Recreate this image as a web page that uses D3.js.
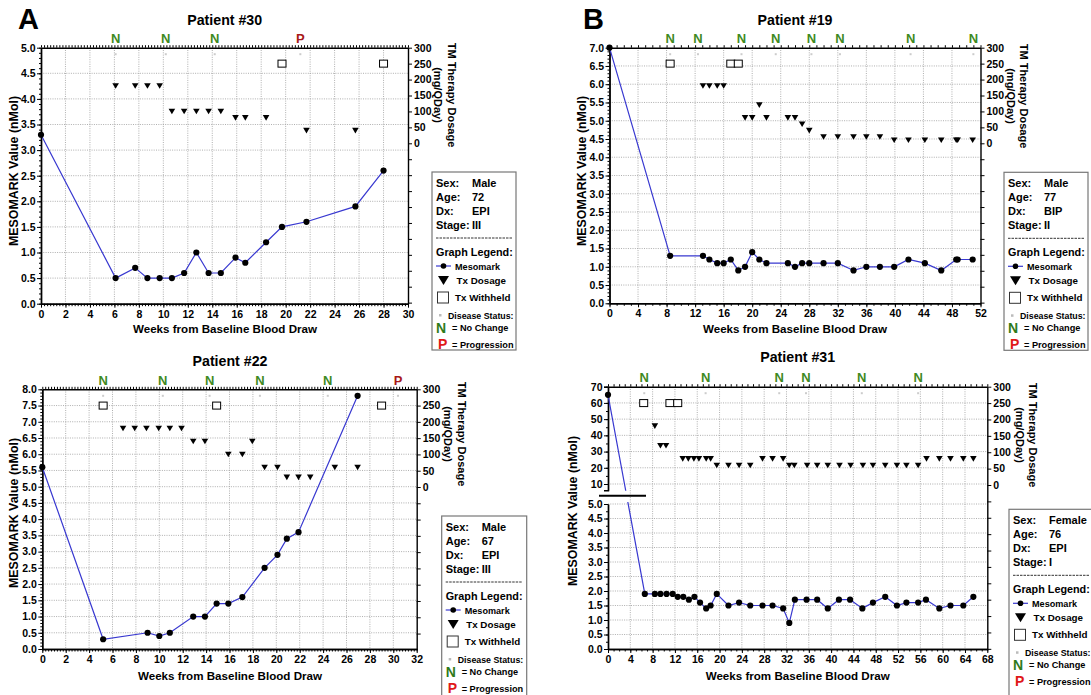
<!DOCTYPE html>
<html><head><meta charset="utf-8">
<script src="https://cdn.jsdelivr.net/npm/d3@7"></script>
<style>
body{margin:0;background:#fff;}
svg{display:block;font-family:"Liberation Sans",Arial,Helvetica,sans-serif;}
</style>
</head><body>
<svg id="c" width="1091" height="695"></svg>
<script>
// ---------------- DATA ----------------
// Patient #30
const p30Weeks = [0,6.1,7.7,8.7,9.7,10.7,11.7,12.7,13.7,14.7,15.9,16.7,18.4,19.7,21.7,25.7,28];
const p30Meso  = [3.3,0.5,0.7,0.5,0.5,0.5,0.6,1.0,0.6,0.6,0.9,0.8,1.2,1.5,1.6,1.9,2.6];
const p30DoseWeeks = [6.1,7.7,8.7,9.7,10.7,11.7,12.7,13.7,14.7,15.9,16.7,18.4,21.7,25.7];
const p30Dose      = [180,180,180,180,100,100,100,100,100,80,80,80,40,40];
const p30HeldWeeks = [19.7,28];
const p30StatusWeeks  = [6.1,10.2,14.2,21.2];
const p30StatusLabels = ["N","N","N","P"];
const p30Info = ["Male","72","EPI","III"];

// Patient #22
const p22Weeks = [0,5.2,9,10,10.9,12.9,13.9,14.9,15.9,17.1,19,20.1,20.9,21.9,26.95];
const p22Meso  = [5.6,0.3,0.5,0.4,0.5,1.0,1.0,1.4,1.4,1.6,2.5,2.9,3.4,3.6,7.8];
const p22DoseWeeks = [6.9,7.9,8.9,9.95,10.9,11.9,12.9,13.9,15.9,17.1,17.95,19,20.1,20.9,21.9,22.9,25,26.95];
const p22Dose      = [180,180,180,180,180,180,140,140,100,100,140,60,60,30,30,30,60,60];
const p22HeldWeeks = [5.2,14.9,29];
const p22StatusWeeks  = [5.2,10.3,14.3,18.6,24.4,30.4];
const p22StatusLabels = ["N","N","N","N","N","P"];
const p22Info = ["Male","67","EPI","III"];

// Patient #19
const p19Weeks = [0,8.5,13.1,14,15.1,16,17,18.05,19,20,21,22,25,26,27,28,30,32,34.2,36,37.9,39.9,41.9,44.2,46.5,48.6,48.8,50.9];
const p19Meso  = [7.0,1.3,1.3,1.2,1.1,1.1,1.2,0.9,1.0,1.4,1.2,1.1,1.1,1.0,1.1,1.1,1.1,1.1,0.9,1.0,1.0,1.0,1.2,1.1,0.9,1.2,1.2,1.2];
const p19DoseWeeks = [13.1,14,15.1,16,19,20,21,22,25,26,27,28,30,32,34.2,36,37.9,39.9,41.9,44.2,46.5,48.6,48.8,50.9];
const p19Dose      = [180,180,180,180,80,80,120,80,80,80,60,40,20,20,20,20,20,10,10,10,10,10,10,10];
const p19HeldWeeks = [8.5,17,18.05];
const p19StatusWeeks  = [8.5,12.4,18.5,23.3,28.3,32.3,42.2,51];
const p19StatusLabels = ["N","N","N","N","N","N","N","N"];
const p19Info = ["Male","77","BIP","II"];

// Patient #31
const p31Weeks = [0,6.6,8.4,9.4,10.5,11.6,12.5,13.5,14.5,15.5,16.5,17.6,18.4,19.5,21.6,23.5,25.5,27.7,29.5,31.4,32.5,33.5,35.6,37.5,39.4,41.4,43.4,45.6,47.5,49.7,51.8,53.5,55.6,57.0,59.4,61.4,63.7,65.5];
const p31Meso  = [65,1.9,1.9,1.9,1.9,1.9,1.8,1.8,1.7,1.8,1.6,1.4,1.5,1.9,1.5,1.6,1.5,1.5,1.5,1.4,0.9,1.7,1.7,1.7,1.4,1.7,1.7,1.4,1.6,1.8,1.5,1.6,1.6,1.7,1.4,1.5,1.5,1.8];
const p31DoseWeeks = [8.4,9.4,10.4,13.4,14.4,15.4,16.3,17.6,18.4,19.5,21.6,23.5,25.5,27.7,29.5,31.4,32.5,33.4,35.7,37.5,39.4,41.5,43.5,45.7,47.5,49.7,51.8,53.5,55.6,57.1,59.4,61.4,63.7,65.5];
const p31Dose      = [180,120,120,80,80,80,80,80,80,60,60,60,60,80,80,80,60,60,60,60,60,60,60,60,60,60,60,60,60,80,80,80,80,80];
const p31HeldWeeks = [6.4,11.1,12.5];
const p31StatusWeeks  = [6.5,17.5,30.7,35.5,45.5,55.6];
const p31StatusLabels = ["N","N","N","N","N","N"];
const p31Info = ["Female","76","EPI","I"];

const infoLabels = ["Sex:","Age:","Dx:","Stage:"];

// ---------------- DRAWING ----------------
const FF = '"Liberation Sans", Arial, Helvetica, sans-serif';
const NARROW = '"Liberation Sans Narrow","Arial Narrow","Liberation Sans",sans-serif';
const svg = d3.select("#c");
const BLUE = "#3838d0", GREEN_PLOT = "#3f8a1f", RED_PLOT = "#a81818";
const GRID = "#9a9a9a";

function styleAxis(sel, fs) {
  sel.attr("font-family", FF).attr("font-size", fs).attr("font-weight", "bold");
  sel.select(".domain").attr("stroke", "#000").attr("stroke-width", 1.4);
  sel.selectAll(".tick line").attr("stroke", "#000").attr("stroke-width", 1);
  sel.selectAll(".tick text").attr("fill", "#000");
}

function triPath(cx, cy) {
  return `M${cx-3.3},${cy-2.7}L${cx+3.3},${cy-2.7}L${cx},${cy+2.9}Z`;
}

function drawPanel(c) {
  const g = svg.append("g");
  const x = d3.scaleLinear().domain([0, c.xMax]).range([c.left, c.right]);
  let yf, yLow, yUp;
  if (c.broken) {
    yLow = d3.scaleLinear().domain([0, 5]).range([c.bottom, c.lowTop]);
    yUp = d3.scaleLinear().domain([10, 70]).range([c.up10, c.top]);
    yf = v => v > 5.5 ? yUp(v) : yLow(v);
  } else {
    yLow = d3.scaleLinear().domain([0, c.yMax]).range([c.bottom, c.top]);
    yf = v => yLow(v);
  }
  const y2 = d3.scaleLinear().domain([0, 300]).range([c.y2Zero, c.top]);

  // grid
  const gg = g.append("g").attr("stroke", GRID).attr("stroke-width", 0.8).attr("stroke-dasharray", "1,1.3");
  gg.selectAll(".vg").data(d3.range(c.xStep, c.xMax - 0.001, c.xStep)).join("line")
    .attr("x1", d => x(d)).attr("x2", d => x(d)).attr("y1", c.top).attr("y2", c.bottom);
  if (c.broken) {
    gg.selectAll(".hg").data(d3.range(0.5, 5.01, 0.5)).join("line")
      .attr("x1", c.left).attr("x2", c.right).attr("y1", d => yLow(d)).attr("y2", d => yLow(d));
    gg.selectAll(".hu").data(d3.range(10, 61, 10)).join("line")
      .attr("x1", c.left).attr("x2", c.right).attr("y1", d => yUp(d)).attr("y2", d => yUp(d));
  } else {
    gg.selectAll(".hg").data(d3.range(c.yStep, c.yMax - 0.001, c.yStep)).join("line")
      .attr("x1", c.left).attr("x2", c.right).attr("y1", d => yLow(d)).attr("y2", d => yLow(d));
  }

  // top border with minor ticks
  const topAx = g.append("g").attr("transform", `translate(0,${c.top})`)
    .call(d3.axisTop(x).tickValues(d3.range(0, c.xMax + 0.001, c.xMinor)).tickSize(2.5).tickSizeOuter(0).tickFormat(""));
  styleAxis(topAx, 10);

  // bottom axis minor + major
  const botMin = g.append("g").attr("transform", `translate(0,${c.bottom})`)
    .call(d3.axisBottom(x).tickValues(d3.range(0, c.xMax + 0.001, c.xMinor)).tickSize(2.5).tickSizeOuter(0).tickFormat(""));
  styleAxis(botMin, 10);
  const botAx = g.append("g").attr("transform", `translate(0,${c.bottom})`)
    .call(d3.axisBottom(x).tickValues(d3.range(0, c.xMax + 0.001, c.xStep)).tickSize(4).tickSizeOuter(0).tickFormat(d3.format("d")).tickPadding(2.5));
  styleAxis(botAx, 10.5);

  // left axis
  if (c.broken) {
    const lowAx = g.append("g").attr("transform", `translate(${c.left},0)`)
      .call(d3.axisLeft(yLow).tickValues(d3.range(0, 5.01, 0.5)).tickSize(4).tickSizeOuter(0).tickFormat(d3.format(".1f")).tickPadding(1.5));
    styleAxis(lowAx, 10.5);
    const lowMin = g.append("g").attr("transform", `translate(${c.left},0)`)
      .call(d3.axisLeft(yLow).tickValues(d3.range(0, 5.01, 0.25)).tickSize(2).tickSizeOuter(0).tickFormat(""));
    styleAxis(lowMin, 10);
    const upScale = d3.scaleLinear().domain([yUp.invert(c.upBottom), 70]).range([c.upBottom, c.top]);
    const upAx = g.append("g").attr("transform", `translate(${c.left},0)`)
      .call(d3.axisLeft(upScale).tickValues(d3.range(10, 71, 10)).tickSize(4).tickSizeOuter(4).tickFormat(d3.format("d")).tickPadding(1.5));
    styleAxis(upAx, 10.5);
    const upMin = g.append("g").attr("transform", `translate(${c.left},0)`)
      .call(d3.axisLeft(upScale).tickValues(d3.range(10, 71, 5)).tickSize(2).tickSizeOuter(0).tickFormat(""));
    styleAxis(upMin, 10);
    // break mark
    g.append("line").attr("x1", c.left - 9).attr("x2", c.left + 38).attr("y1", c.breakY).attr("y2", c.breakY)
      .attr("stroke", "#000").attr("stroke-width", 2);
  } else {
    const leftMin = g.append("g").attr("transform", `translate(${c.left},0)`)
      .call(d3.axisLeft(yLow).tickValues(d3.range(0, c.yMax + 0.001, c.yMinor)).tickSize(2).tickSizeOuter(0).tickFormat(""));
    styleAxis(leftMin, 10);
    const leftAx = g.append("g").attr("transform", `translate(${c.left},0)`)
      .call(d3.axisLeft(yLow).tickValues(d3.range(0, c.yMax + 0.001, c.yStep)).tickSize(4).tickSizeOuter(0).tickFormat(d3.format(".1f")).tickPadding(1.5));
    styleAxis(leftAx, 10.5);
  }

  // right dosage axis
  const y2Full = d3.scaleLinear().domain([y2.invert(c.bottom), 300]).range([c.bottom, c.top]);
  const rTicks = d3.range(300, y2.invert(c.bottom) - 1, -50);
  const rightAx = g.append("g").attr("transform", `translate(${c.right},0)`)
    .call(d3.axisRight(y2Full).tickValues(rTicks).tickSize(4).tickSizeOuter(0).tickPadding(2)
      .tickFormat(d => d >= 0 ? d : ""));
  styleAxis(rightAx, 10.5);

  // mesomark line
  const line = d3.line().x(d => x(d[0])).y(d => yf(d[1]));
  const pts = c.weeks.map((w, i) => [w, c.meso[i]]);
  if (c.broken) {
    const cidA = "clipA" + c.id, cidB = "clipB" + c.id;
    const defs = svg.append("defs");
    defs.append("clipPath").attr("id", cidA).append("rect").attr("x", c.left - 5).attr("width", c.right - c.left + 10)
      .attr("y", c.top - 10).attr("height", c.upBottom - c.top + 10.5);
    defs.append("clipPath").attr("id", cidB).append("rect").attr("x", c.left - 5).attr("width", c.right - c.left + 10)
      .attr("y", c.lowTop - 2).attr("height", c.bottom - c.lowTop + 12);
    [cidA, cidB].forEach(id => g.append("path").attr("clip-path", `url(#${id})`).attr("d", line(pts))
      .attr("fill", "none").attr("stroke", BLUE).attr("stroke-width", 1.2));
  } else {
    g.append("path").attr("d", line(pts)).attr("fill", "none").attr("stroke", BLUE).attr("stroke-width", 1.2);
  }
  g.selectAll(".pt").data(pts).join("circle")
    .attr("cx", d => x(d[0])).attr("cy", d => yf(d[1])).attr("r", 3.1).attr("fill", "#000");

  // dosage triangles
  g.selectAll(".tri").data(c.doseWeeks.map((w, i) => [w, c.dose[i]])).join("path")
    .attr("d", d => triPath(x(d[0]), y2(d[1]))).attr("fill", "#000");
  // withheld squares
  g.selectAll(".sq").data(c.heldWeeks).join("rect")
    .attr("x", d => x(d) - 4).attr("y", y2(250) - 3.5).attr("width", 8).attr("height", 7)
    .attr("fill", "#fff").attr("stroke", "#000").attr("stroke-width", 1);

  // status letters
  g.selectAll(".st").data(c.statusWeeks.map((w, i) => [w, c.statusLabels[i]])).join("text")
    .attr("x", d => x(d[0])).attr("y", c.statusY).attr("text-anchor", "middle")
    .attr("font-size", 13).attr("font-weight", "bold").attr("fill", d => d[1] === "P" ? RED_PLOT : GREEN_PLOT)
    .text(d => d[1]);
  g.selectAll(".sd").data(c.statusWeeks).join("rect")
    .attr("x", d => x(d) - 1).attr("y", c.top + 5.5).attr("width", 2).attr("height", 2).attr("fill", "#ccc");

  // titles
  g.append("text").attr("x", c.titleX).attr("y", c.titleY).attr("text-anchor", "middle")
    .attr("font-size", 14.2).attr("font-weight", "bold").text(c.title);
  if (c.letter) g.append("text").attr("x", c.letterX).attr("y", 29).attr("font-size", 29).attr("font-weight", "bold").text(c.letter);
  g.append("text").attr("transform", `translate(${c.leftLabelX},${c.leftLabelY}) rotate(-90)`)
    .attr("text-anchor", "middle").attr("dominant-baseline", "central")
    .attr("font-size", 12.4).attr("font-weight", "bold").text("MESOMARK Value (nMol)");
  g.append("text").attr("x", c.xLabelX).attr("y", c.xLabelY).attr("text-anchor", "middle")
    .attr("font-size", 11.6).attr("font-weight", "bold").text("Weeks from Baseline Blood Draw");
  g.append("text").attr("transform", `translate(${c.rLabelX},${c.rLabelY}) rotate(90)`)
    .attr("text-anchor", "middle").attr("dominant-baseline", "central")
    .attr("font-size", 11).attr("font-weight", "bold").text("TM Therapy Dosage");
  g.append("text").attr("transform", `translate(${c.rLabel2X},${c.rLabelY}) rotate(90)`)
    .attr("text-anchor", "middle").attr("dominant-baseline", "central")
    .attr("font-size", 11).attr("font-weight", "bold").text("(mg/QDay)");

  // legend box
  const L = c.legend;
  const lg = g.append("g").attr("transform", `translate(${L.x},${L.y})`);
  lg.append("rect").attr("x", 0).attr("y", 0).attr("width", L.w).attr("height", L.h)
    .attr("fill", "#fff").attr("stroke", "#777").attr("stroke-width", 1.2);
  infoLabels.forEach((lab, i) => {
    lg.append("text").attr("x", 4).attr("y", 15 + i * 14).attr("font-size", 11).attr("font-weight", "bold").text(lab);
    lg.append("text").attr("x", 40).attr("y", 15 + i * 14).attr("font-size", 11).attr("font-weight", "bold").text(c.info[i]);
  });
  lg.append("line").attr("x1", 4).attr("x2", 80).attr("y1", 66).attr("y2", 66)
    .attr("stroke", "#333").attr("stroke-width", 1).attr("stroke-dasharray", "2.5,1");
  lg.append("text").attr("x", 4).attr("y", 84).attr("font-size", 10.8).attr("font-weight", "bold").text("Graph Legend:");
  lg.append("line").attr("x1", 4).attr("x2", 19).attr("y1", 94).attr("y2", 94).attr("stroke", BLUE).attr("stroke-width", 1.2);
  lg.append("circle").attr("cx", 11.5).attr("cy", 94).attr("r", 2.8).attr("fill", "#000");
  lg.append("text").attr("x", 23).attr("y", 97.5).attr("font-size", 9.1).attr("font-weight", "bold").text("Mesomark");
  lg.append("path").attr("d", "M6,104L17,104L11.5,113Z").attr("fill", "#000");
  lg.append("text").attr("x", 24.5).attr("y", 112).attr("font-size", 9.8).attr("font-weight", "bold")
    .attr("font-family", NARROW).text("Tx Dosage");
  lg.append("rect").attr("x", 5.5).attr("y", 120).attr("width", 11).attr("height", 11)
    .attr("fill", "#fff").attr("stroke", "#333").attr("stroke-width", 1);
  lg.append("text").attr("x", 23).attr("y", 129).attr("font-size", 9.8).attr("font-weight", "bold")
    .attr("font-family", NARROW).text("Tx Withheld");
  lg.append("rect").attr("x", 7).attr("y", 142).attr("width", 2.5).attr("height", 2.5).attr("fill", "#bbb");
  lg.append("text").attr("x", 16).attr("y", 147).attr("font-size", 8.8).attr("font-weight", "bold").text("Disease Status:");
  lg.append("text").attr("x", 4).attr("y", 160.5).attr("font-size", 14).attr("font-weight", "bold").attr("fill", "#2f7a1a").text("N");
  lg.append("text").attr("x", 20).attr("y", 159).attr("font-size", 9.2).attr("font-weight", "bold")
    .attr("font-family", NARROW).text("= No Change");
  lg.append("text").attr("x", 6).attr("y", 176.5).attr("font-size", 14).attr("font-weight", "bold").attr("fill", "#e01818").text("P");
  lg.append("text").attr("x", 20).attr("y", 175.5).attr("font-size", 9.2).attr("font-weight", "bold")
    .attr("font-family", NARROW).text("= Progression");
}

drawPanel({id: "30", title: "Patient #30", letter: "A", letterX: 18,
  left: 41, right: 408, top: 47.7, bottom: 303.7, xMax: 30, xStep: 2, xMinor: 0.25, yMax: 5, yStep: 0.5, yMinor: 0.1,
  y2Zero: 143.3, titleX: 224.7, titleY: 25, statusY: 43,
  leftLabelX: 14, leftLabelY: 171, xLabelX: 225, xLabelY: 333, rLabelX: 452, rLabel2X: 438, rLabelY: 95,
  legend: {x: 432, y: 172, w: 84, h: 178},
  weeks: p30Weeks, meso: p30Meso, doseWeeks: p30DoseWeeks, dose: p30Dose, heldWeeks: p30HeldWeeks,
  statusWeeks: p30StatusWeeks, statusLabels: p30StatusLabels, info: p30Info});

drawPanel({id: "22", title: "Patient #22",
  left: 42.3, right: 416.7, top: 389.3, bottom: 649, xMax: 32, xStep: 2, xMinor: 0.25, yMax: 8, yStep: 0.5, yMinor: 0.1,
  y2Zero: 487, titleX: 230, titleY: 365.5, statusY: 385,
  leftLabelX: 14, leftLabelY: 513, xLabelX: 230, xLabelY: 680, rLabelX: 461.7, rLabel2X: 448.3, rLabelY: 434,
  legend: {x: 441.7, y: 516, w: 85, h: 185},
  weeks: p22Weeks, meso: p22Meso, doseWeeks: p22DoseWeeks, dose: p22Dose, heldWeeks: p22HeldWeeks,
  statusWeeks: p22StatusWeeks, statusLabels: p22StatusLabels, info: p22Info});

drawPanel({id: "19", title: "Patient #19", letter: "B", letterX: 583,
  left: 609.5, right: 980.5, top: 47.7, bottom: 303.3, xMax: 52, xStep: 4, xMinor: 1, yMax: 7, yStep: 0.5, yMinor: 0.1,
  y2Zero: 143.3, titleX: 795, titleY: 25, statusY: 43,
  leftLabelX: 582, leftLabelY: 171, xLabelX: 795, xLabelY: 333, rLabelX: 1024, rLabel2X: 1011, rLabelY: 96,
  legend: {x: 1004, y: 172.3, w: 84, h: 178},
  weeks: p19Weeks, meso: p19Meso, doseWeeks: p19DoseWeeks, dose: p19Dose, heldWeeks: p19HeldWeeks,
  statusWeeks: p19StatusWeeks, statusLabels: p19StatusLabels, info: p19Info});

drawPanel({id: "31", title: "Patient #31", broken: true,
  left: 608, right: 987.3, top: 386.7, bottom: 649, lowTop: 504, up10: 484, upBottom: 490.3, breakY: 495.7,
  xMax: 68, xStep: 4, xMinor: 1,
  y2Zero: 485, titleX: 797.7, titleY: 362, statusY: 381.5,
  leftLabelX: 573, leftLabelY: 511, xLabelX: 797.7, xLabelY: 680, rLabelX: 1033, rLabel2X: 1020, rLabelY: 435,
  legend: {x: 1009, y: 509.3, w: 95, h: 195},
  weeks: p31Weeks, meso: p31Meso, doseWeeks: p31DoseWeeks, dose: p31Dose, heldWeeks: p31HeldWeeks,
  statusWeeks: p31StatusWeeks, statusLabels: p31StatusLabels, info: p31Info});
</script>
</body></html>
